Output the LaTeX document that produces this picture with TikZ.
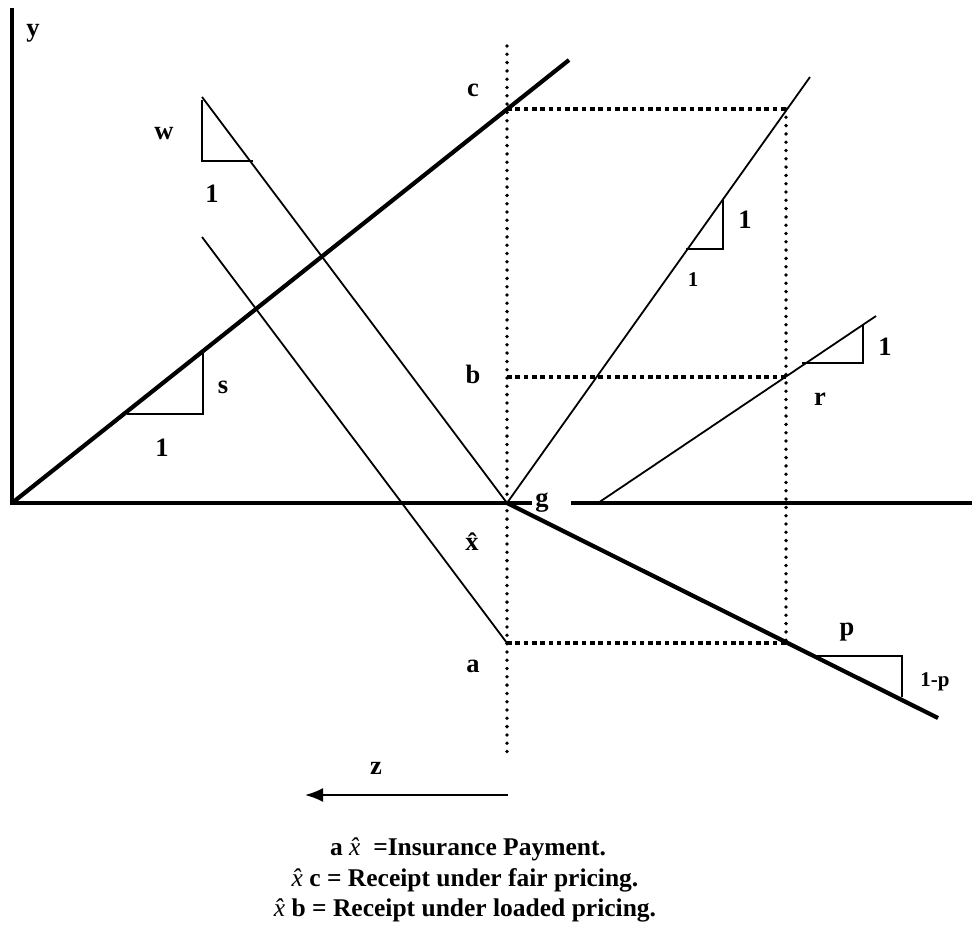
\documentclass[tikz,border=0pt]{standalone}
\usepackage{fontspec}
\setmainfont{Liberation Serif}
\usetikzlibrary{arrows.meta}
\begin{document}
\begin{tikzpicture}[x=1pt,y=-1pt,
  axisline/.style={line width=4.2pt},
  thinline/.style={line width=1.8pt},
  triline/.style={line width=2pt},
  dotv/.style={line width=3.8pt,line cap=round,dash pattern=on 0pt off 8.3pt},
  doth/.style={line width=3.6pt,line cap=butt,dash pattern=on 4.6pt off 3.7pt},
  lbl/.style={font=\bfseries\fontsize{26.5}{26.5}\selectfont,inner sep=0pt,anchor=base},
  slbl/.style={font=\bfseries\fontsize{21}{21}\selectfont,inner sep=0pt,anchor=base},
  captxt/.style={font=\bfseries\fontsize{25.5}{25.5}\selectfont,inner sep=0pt,anchor=base}]
\useasboundingbox (0,0) rectangle (972,932);
% key points
\coordinate (O) at (12,503);
\coordinate (ytop) at (12,8);
\coordinate (axL) at (532,503);
\coordinate (axR0) at (571,503);
\coordinate (axR) at (972,503);
\coordinate (send) at (569,60);
\coordinate (g) at (507,503);
\coordinate (c) at (507,109);
\coordinate (b) at (507,377);
\coordinate (a) at (507,643);
\coordinate (vtop) at (507,46);
\coordinate (vbot) at (507,759);
\coordinate (C2) at (786,109);
\coordinate (B2) at (786,377);
\coordinate (A2) at (786,643);
\coordinate (wtop) at (202,97);
\coordinate (ptop) at (202,237);
\coordinate (fend) at (810,77);
\coordinate (rst) at (598,503);
\coordinate (rend) at (876,316);
\coordinate (pend) at (938,718);
\coordinate (zs) at (508,795);
\coordinate (ze) at (305,795);
% axes
\draw[axisline] (ytop) -- (O) -- (axL);
\draw[axisline] (axR0) -- (axR);
% thick s-line and p-line
\draw[axisline] (O) -- (send);
\draw[axisline] (g) -- (pend);
% thin lines
\draw[thinline] (wtop) -- (g);
\draw[thinline] (ptop) -- (a);
\draw[thinline] (g) -- (fend);
\draw[thinline] (rst) -- (rend);
% dotted
\draw[dotv] (vtop) -- (vbot);
\draw[dotv] (C2) -- (A2);
\draw[doth] (c) -- (C2);
\draw[doth] (b) -- (B2);
\draw[doth] (a) -- (A2);
% slope triangles
\draw[triline] (127,414) -- (203,414) -- (203,353);
\draw[triline] (202,100) -- (202,161) -- (253,161);
\draw[triline] (686,249) -- (723,249) -- (723,199);
\draw[triline] (802,363) -- (863,363) -- (863,325);
\draw[triline] (815,656) -- (902,656) -- (902,697);
% z arrow
\draw[line width=2pt,-{Latex[length=18pt,width=14pt]}] (zs) -- (ze);
% labels
\node[lbl] (ly) at (33,36) {y};
\node[lbl] (lw) at (164,139) {w};
\node[lbl] (lw1) at (212,202) {1};
\node[lbl] (lc) at (473,96) {c};
\node[lbl] (lb) at (473,383) {b};
\node[lbl] (lg) at (542,506) {g};
\node[lbl] (lx) at (472,550) {\^{x}};
\node[lbl] (la) at (473,672) {a};
\node[lbl] (lz) at (376,774) {z};
\node[lbl] (ls) at (223,393) {s};
\node[lbl] (ls1) at (162,456) {1};
\node[lbl] (lf1) at (745,228) {1};
\node[slbl] (lf2) at (693,286) {1};
\node[lbl] (lr1) at (885,355) {1};
\node[lbl] (lr) at (820,405) {r};
\node[lbl] (lp) at (847,635) {p};
\node[slbl] (lp1) at (935,686) {1-p};
% caption
\node[captxt] (cap1) at (468,855) {a {\mdseries\itshape\^{x}}\ \ =Insurance Payment.};
\node[captxt] (cap2) at (465,886) {{\mdseries\itshape\^{x}} c = Receipt under fair pricing.};
\node[captxt] (cap3) at (465,916) {{\mdseries\itshape\^{x}} b = Receipt under loaded pricing.};
\end{tikzpicture}
\end{document}
